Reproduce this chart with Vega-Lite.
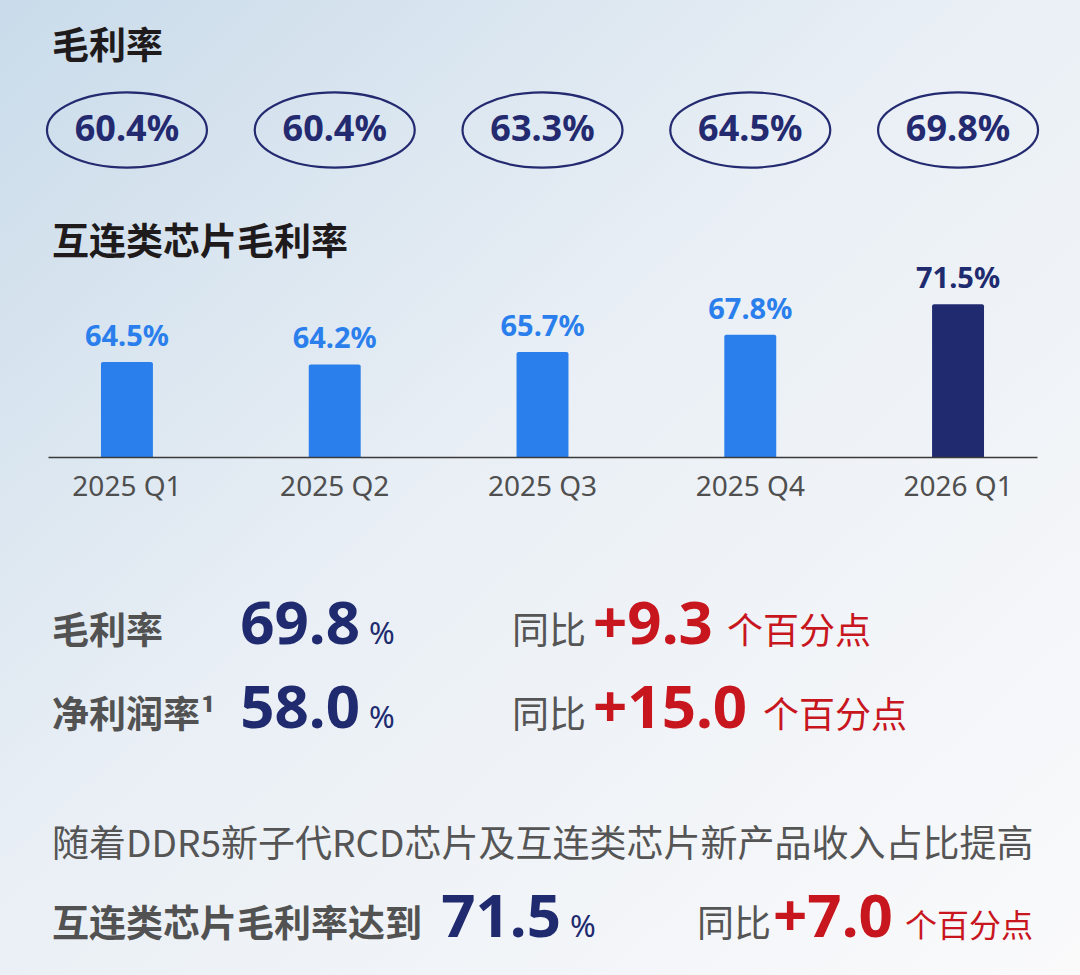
{
  "$schema": "https://vega.github.io/schema/vega-lite/v6.json",
  "width": 1080,
  "height": 975,
  "autosize": {"type": "none"},
  "padding": 0,
  "background": "#f6f8fa",
  "config": {
    "view": {"stroke": null},
    "font": "Noto Sans CJK SC"
  },
  "datasets": {
    "quarters": [
      {"quarter": "2025 Q1", "gross_margin": 0.604, "interconnect_margin": 0.645},
      {"quarter": "2025 Q2", "gross_margin": 0.604, "interconnect_margin": 0.642},
      {"quarter": "2025 Q3", "gross_margin": 0.633, "interconnect_margin": 0.657},
      {"quarter": "2025 Q4", "gross_margin": 0.645, "interconnect_margin": 0.678},
      {"quarter": "2026 Q1", "gross_margin": 0.698, "interconnect_margin": 0.715}
    ],
    "notes": [
      {"line": 0, "slot": 0, "role": "heading", "text": "毛利率"},
      {"line": 2, "slot": 0, "role": "heading", "text": "互连类芯片毛利率"},
      {"line": 3, "slot": 0, "role": "metric_label", "text": "毛利率"},
      {"line": 3, "slot": 1, "role": "metric_value", "text": "69.8"},
      {"line": 3, "slot": 1, "role": "percent_sign", "text": "%"},
      {"line": 3, "slot": 2, "role": "comparison", "text": "同比"},
      {"line": 3, "slot": 4, "role": "change", "text": "+9.3"},
      {"line": 3, "slot": 6, "role": "change_unit", "text": "个百分点"},
      {"line": 4, "slot": 0, "role": "metric_label", "text": "净利润率¹"},
      {"line": 4, "slot": 1, "role": "metric_value", "text": "58.0"},
      {"line": 4, "slot": 1, "role": "percent_sign", "text": "%"},
      {"line": 4, "slot": 2, "role": "comparison", "text": "同比"},
      {"line": 4, "slot": 4, "role": "change", "text": "+15.0"},
      {"line": 4, "slot": 7, "role": "change_unit", "text": "个百分点"},
      {"line": 5, "slot": 0, "role": "note", "text": "随着DDR5新子代RCD芯片及互连类芯片新产品收入占比提高"},
      {"line": 6, "slot": 0, "role": "metric_label", "text": "互连类芯片毛利率达到"},
      {"line": 6, "slot": 3, "role": "metric_value", "text": "71.5"},
      {"line": 6, "slot": 3, "role": "percent_sign", "text": "%"},
      {"line": 6, "slot": 5, "role": "comparison", "text": "同比"},
      {"line": 6, "slot": 8, "role": "change", "text": "+7.0"},
      {"line": 6, "slot": 9, "role": "change_unit", "text": "个百分点"}
    ]
  },
  "resolve": {"scale": {"x": "independent", "y": "independent"}},
  "layer": [
    {
      "data": {"values": [{"panel": "background"}]},
      "mark": {
        "type": "rect",
        "fill": {
          "gradient": "linear",
          "x1": 0, "y1": 0, "x2": 1, "y2": 1,
          "stops": [
            {"offset": 0, "color": "#c9dbea"},
            {"offset": 0.45, "color": "#e9eff5"},
            {"offset": 1, "color": "#fafafb"}
          ]
        }
      },
      "encoding": {}
    },
    {
      "data": {"name": "quarters"},
      "mark": {
        "type": "point",
        "shape": "M-1,0A1,0.47 0 1,1 1,0A1,0.47 0 1,1 -1,0Z",
        "size": 25600,
        "filled": false,
        "color": "#232a70",
        "strokeWidth": 2.2,
        "opacity": 1
      },
      "encoding": {
        "x": {
          "field": "quarter", "type": "nominal", "sort": null,
          "scale": {"type": "band", "range": [48, 1037], "paddingInner": 0.75, "paddingOuter": 0.255},
          "axis": null
        },
        "y": {
          "datum": 1, "type": "quantitative",
          "scale": {"domain": [0, 1, 2, 3, 4, 5, 6], "range": [59, 130, 255, 644, 728, 857, 937], "zero": false, "nice": false},
          "axis": null
        }
      }
    },
    {
      "data": {"name": "quarters"},
      "mark": {"type": "text", "align": "center", "baseline": "middle", "font": "Noto Sans", "fontWeight": "bold", "fontSize": 36, "color": "#232a70"},
      "encoding": {
        "x": {
          "field": "quarter", "type": "nominal", "sort": null,
          "scale": {"type": "band", "range": [48, 1037], "paddingInner": 0.75, "paddingOuter": 0.255},
          "axis": null
        },
        "y": {
          "datum": 1, "type": "quantitative",
          "scale": {"domain": [0, 1, 2, 3, 4, 5, 6], "range": [59, 130, 255, 644, 728, 857, 937], "zero": false, "nice": false},
          "axis": null
        },
        "text": {"field": "gross_margin", "type": "quantitative", "format": ".1%"}
      }
    },
    {
      "data": {"name": "quarters"},
      "mark": {"type": "bar", "cornerRadiusTopLeft": 2, "cornerRadiusTopRight": 2},
      "encoding": {
        "x": {
          "field": "quarter", "type": "nominal", "sort": null,
          "scale": {"type": "band", "range": [48, 1037], "paddingInner": 0.75, "paddingOuter": 0.255},
          "axis": {
            "orient": "bottom", "offset": -518, "zindex": 2, "title": null, "ticks": false, "grid": false,
            "domainColor": "#3a3a3a", "domainWidth": 1.5,
            "labelFont": "Noto Sans", "labelFontSize": 28, "labelColor": "#4f4f4f",
            "labelPadding": 16, "labelAngle": 0
          }
        },
        "y": {
          "field": "interconnect_margin", "type": "quantitative",
          "scale": {"domain": [0.53, 0.72], "range": [457, 300], "zero": false, "nice": false},
          "axis": null
        },
        "y2": {"datum": 0.53},
        "color": {
          "condition": {"test": "datum.quarter === '2026 Q1'", "value": "#202a6e"},
          "value": "#2b7fec"
        }
      }
    },
    {
      "data": {"name": "quarters"},
      "mark": {"type": "text", "align": "center", "baseline": "alphabetic", "dy": -16, "font": "Noto Sans", "fontWeight": "bold", "fontSize": 29},
      "encoding": {
        "x": {
          "field": "quarter", "type": "nominal", "sort": null,
          "scale": {"type": "band", "range": [48, 1037], "paddingInner": 0.75, "paddingOuter": 0.255},
          "axis": null
        },
        "y": {
          "field": "interconnect_margin", "type": "quantitative",
          "scale": {"domain": [0.53, 0.72], "range": [457, 300], "zero": false, "nice": false},
          "axis": null
        },
        "text": {"field": "interconnect_margin", "type": "quantitative", "format": ".1%"},
        "color": {
          "condition": {"test": "datum.quarter === '2026 Q1'", "value": "#202a6e"},
          "value": "#2b7fec"
        }
      }
    },
    {
      "data": {"name": "notes"},
      "transform": [{"filter": "datum.role === 'heading'"}],
      "mark": {"type": "text", "align": "left", "baseline": "alphabetic", "fontWeight": "bold", "fontSize": 37, "color": "#1f1b1c"},
      "encoding": {
        "x": {"field": "slot", "type": "quantitative", "scale": {"domain": [0, 1, 2, 3, 4, 5, 6, 7, 8, 9], "range": [52, 360, 512, 561, 593, 697, 727, 763, 773, 905], "zero": false, "nice": false}, "axis": null},
        "y": {"field": "line", "type": "quantitative", "scale": {"domain": [0, 1, 2, 3, 4, 5, 6], "range": [59, 130, 255, 644, 728, 857, 937], "zero": false, "nice": false}, "axis": null},
        "text": {"field": "text"}
      }
    },
    {
      "data": {"name": "notes"},
      "transform": [{"filter": "datum.role === 'metric_label'"}],
      "mark": {"type": "text", "align": "left", "baseline": "alphabetic", "fontWeight": "bold", "fontSize": 37, "color": "#525252"},
      "encoding": {
        "x": {"field": "slot", "type": "quantitative", "scale": {"domain": [0, 1, 2, 3, 4, 5, 6, 7, 8, 9], "range": [52, 360, 512, 561, 593, 697, 727, 763, 773, 905], "zero": false, "nice": false}, "axis": null},
        "y": {"field": "line", "type": "quantitative", "scale": {"domain": [0, 1, 2, 3, 4, 5, 6], "range": [59, 130, 255, 644, 728, 857, 937], "zero": false, "nice": false}, "axis": null},
        "text": {"field": "text"}
      }
    },
    {
      "data": {"name": "notes"},
      "transform": [{"filter": "datum.role === 'metric_value'"}],
      "mark": {"type": "text", "align": "right", "baseline": "alphabetic", "font": "Noto Sans", "fontWeight": "bold", "fontSize": 60, "color": "#202a6e"},
      "encoding": {
        "x": {"field": "slot", "type": "quantitative", "scale": {"domain": [0, 1, 2, 3, 4, 5, 6, 7, 8, 9], "range": [52, 360, 512, 561, 593, 697, 727, 763, 773, 905], "zero": false, "nice": false}, "axis": null},
        "y": {"field": "line", "type": "quantitative", "scale": {"domain": [0, 1, 2, 3, 4, 5, 6], "range": [59, 130, 255, 644, 728, 857, 937], "zero": false, "nice": false}, "axis": null},
        "text": {"field": "text"}
      }
    },
    {
      "data": {"name": "notes"},
      "transform": [{"filter": "datum.role === 'percent_sign'"}],
      "mark": {"type": "text", "align": "left", "baseline": "alphabetic", "dx": 9, "font": "Noto Sans", "fontSize": 31, "color": "#202a6e"},
      "encoding": {
        "x": {"field": "slot", "type": "quantitative", "scale": {"domain": [0, 1, 2, 3, 4, 5, 6, 7, 8, 9], "range": [52, 360, 512, 561, 593, 697, 727, 763, 773, 905], "zero": false, "nice": false}, "axis": null},
        "y": {"field": "line", "type": "quantitative", "scale": {"domain": [0, 1, 2, 3, 4, 5, 6], "range": [59, 130, 255, 644, 728, 857, 937], "zero": false, "nice": false}, "axis": null},
        "text": {"field": "text"}
      }
    },
    {
      "data": {"name": "notes"},
      "transform": [{"filter": "datum.role === 'comparison' || datum.role === 'note'"}],
      "mark": {"type": "text", "align": "left", "baseline": "alphabetic", "fontSize": 37, "color": "#555555"},
      "encoding": {
        "x": {"field": "slot", "type": "quantitative", "scale": {"domain": [0, 1, 2, 3, 4, 5, 6, 7, 8, 9], "range": [52, 360, 512, 561, 593, 697, 727, 763, 773, 905], "zero": false, "nice": false}, "axis": null},
        "y": {"field": "line", "type": "quantitative", "scale": {"domain": [0, 1, 2, 3, 4, 5, 6], "range": [59, 130, 255, 644, 728, 857, 937], "zero": false, "nice": false}, "axis": null},
        "text": {"field": "text"}
      }
    },
    {
      "data": {"name": "notes"},
      "transform": [{"filter": "datum.role === 'change'"}],
      "mark": {"type": "text", "align": "left", "baseline": "alphabetic", "font": "Noto Sans", "fontWeight": "bold", "fontSize": 60, "color": "#c8161e"},
      "encoding": {
        "x": {"field": "slot", "type": "quantitative", "scale": {"domain": [0, 1, 2, 3, 4, 5, 6, 7, 8, 9], "range": [52, 360, 512, 561, 593, 697, 727, 763, 773, 905], "zero": false, "nice": false}, "axis": null},
        "y": {"field": "line", "type": "quantitative", "scale": {"domain": [0, 1, 2, 3, 4, 5, 6], "range": [59, 130, 255, 644, 728, 857, 937], "zero": false, "nice": false}, "axis": null},
        "text": {"field": "text"}
      }
    },
    {
      "data": {"name": "notes"},
      "transform": [{"filter": "datum.role === 'change_unit' && datum.line < 6"}],
      "mark": {"type": "text", "align": "left", "baseline": "alphabetic", "fontSize": 36, "color": "#c8161e"},
      "encoding": {
        "x": {"field": "slot", "type": "quantitative", "scale": {"domain": [0, 1, 2, 3, 4, 5, 6, 7, 8, 9], "range": [52, 360, 512, 561, 593, 697, 727, 763, 773, 905], "zero": false, "nice": false}, "axis": null},
        "y": {"field": "line", "type": "quantitative", "scale": {"domain": [0, 1, 2, 3, 4, 5, 6], "range": [59, 130, 255, 644, 728, 857, 937], "zero": false, "nice": false}, "axis": null},
        "text": {"field": "text"}
      }
    },
    {
      "data": {"name": "notes"},
      "transform": [{"filter": "datum.role === 'change_unit' && datum.line === 6"}],
      "mark": {"type": "text", "align": "left", "baseline": "alphabetic", "fontSize": 32, "color": "#c8161e"},
      "encoding": {
        "x": {"field": "slot", "type": "quantitative", "scale": {"domain": [0, 1, 2, 3, 4, 5, 6, 7, 8, 9], "range": [52, 360, 512, 561, 593, 697, 727, 763, 773, 905], "zero": false, "nice": false}, "axis": null},
        "y": {"field": "line", "type": "quantitative", "scale": {"domain": [0, 1, 2, 3, 4, 5, 6], "range": [59, 130, 255, 644, 728, 857, 937], "zero": false, "nice": false}, "axis": null},
        "text": {"field": "text"}
      }
    }
  ]
}
